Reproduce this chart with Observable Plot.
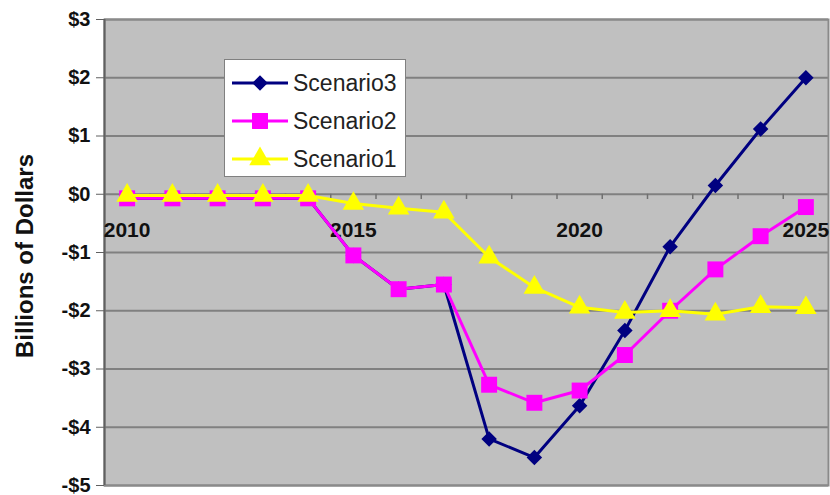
<!DOCTYPE html>
<html>
<head>
<meta charset="utf-8">
<script src="https://cdn.jsdelivr.net/npm/d3@7"></script>
<script src="https://cdn.jsdelivr.net/npm/@observablehq/plot@0.6"></script>
<style>
  html, body { margin: 0; padding: 0; background: #fff; }
  #wrap { position: relative; width: 830px; height: 495px; font-family: "Liberation Sans", Arial, sans-serif; }
  #ytitle { position: absolute; left: 25px; top: 256px; transform: translate(-50%, -50%) rotate(-90deg); font-weight: bold; font-size: 24px; white-space: nowrap; color: #111; }
  #legend { position: absolute; left: 224px; top: 59px; width: 182px; height: 118px; background: #fff; border: 1px solid #808080; box-sizing: border-box; }
  .row { position: absolute; left: 6px; height: 30px; display: flex; align-items: center; }
  .row span { font-size: 23px; color: #222; margin-left: 4px; }
</style>
</head>
<body>
<div id="wrap"></div>
<script>
const years = [2010, 2011, 2012, 2013, 2014, 2015, 2016, 2017, 2018, 2019, 2020, 2021, 2022, 2023, 2024, 2025];
const scenario3 = [-0.07, -0.07, -0.07, -0.07, -0.07, -1.05, -1.63, -1.55, -4.2, -4.52, -3.63, -2.34, -0.9, 0.15, 1.12, 2.0];
const scenario2 = [-0.07, -0.07, -0.07, -0.07, -0.07, -1.05, -1.63, -1.55, -3.27, -3.58, -3.37, -2.76, -2.0, -1.29, -0.72, -0.22];
const scenario1 = [-0.02, -0.02, -0.02, -0.02, -0.02, -0.16, -0.24, -0.31, -1.08, -1.6, -1.94, -2.03, -2.0, -2.06, -1.93, -1.95];
const seriesNames = ["Scenario3", "Scenario2", "Scenario1"];
const seriesColors = ["#000080", "#ff00ff", "#ffff00"];
const seriesSymbols = ["diamond2", "square", "triangle"];
const seriesR = [7, 9, 8];
const yTicks = [-5, -4, -3, -2, -1, 0, 1, 2, 3];
const xLabelYears = [2010, 2015, 2020, 2025];
const catBoundaries = [2010.5, 2011.5, 2012.5, 2013.5, 2014.5, 2015.5, 2016.5, 2017.5, 2018.5, 2019.5, 2020.5, 2021.5, 2022.5, 2023.5, 2024.5];

const allSeries = [scenario3, scenario2, scenario1];
const data = [];
allSeries.forEach((vals, i) => vals.forEach((v, j) => data.push({year: years[j], value: v, series: seriesNames[i], idx: i})));

const fmt = d => d < 0 ? `-$${-d}` : `$${d}`;

const marks = [
  Plot.frame({fill: "#c0c0c0", stroke: null}),
  Plot.ruleY(yTicks, {stroke: "#808080", strokeWidth: 2}),
  Plot.ruleX(catBoundaries, {x: d => d, y1: 0, y2: -0.09, stroke: "#707070", strokeWidth: 1.5}),
  Plot.frame({stroke: "#8a8a8a", strokeWidth: 2}),
  Plot.ruleX([2009.5], {stroke: "#606060", strokeWidth: 2}),
  Plot.axisY({ticks: yTicks, tickFormat: fmt, label: null, tickSize: 8, tickPadding: 6, fontSize: 20, fontWeight: "bold", stroke: "#606060", fill: "#111"}),
  Plot.text(xLabelYears, {x: d => d, y: 0, dy: 36, text: d => String(d), fontSize: 21, fontWeight: "bold", fill: "#111"})
];
seriesNames.forEach((name, i) => {
  const sub = data.filter(d => d.idx === i);
  marks.push(Plot.line(sub, {x: "year", y: "value", stroke: seriesColors[i], strokeWidth: 3}));
  marks.push(Plot.dot(sub, {x: "year", y: "value", symbol: () => seriesSymbols[i], r: seriesR[i], fill: seriesColors[i], stroke: null}));
});

const chart = Plot.plot({
  width: 830,
  height: 495,
  marginLeft: 104,
  marginRight: 2,
  marginTop: 19,
  marginBottom: 10,
  style: {fontFamily: "'Liberation Sans', Arial, sans-serif", background: "transparent"},
  x: {domain: [2009.5, 2025.5], axis: null},
  y: {domain: [-5, 3], axis: null},
  symbol: {type: "identity"},
  marks
});

const wrap = document.getElementById("wrap");
wrap.appendChild(chart);

const title = document.createElement("div");
title.id = "ytitle";
title.textContent = "Billions of Dollars";
wrap.appendChild(title);

const legend = document.createElement("div");
legend.id = "legend";
const tops = [8, 46, 84];
seriesNames.forEach((name, i) => {
  const row = document.createElement("div");
  row.className = "row";
  row.style.top = tops[i] + "px";
  const sw = d3.create("svg").attr("width", 58).attr("height", 30);
  sw.append("line").attr("x1", 1).attr("x2", 57).attr("y1", 15).attr("y2", 15).attr("stroke", seriesColors[i]).attr("stroke-width", 3);
  const symMap = {diamond2: d3.symbolDiamond2, square: d3.symbolSquare, triangle: d3.symbolTriangle};
  sw.append("path").attr("transform", "translate(29,15)")
    .attr("d", d3.symbol(symMap[seriesSymbols[i]], Math.PI * seriesR[i] * seriesR[i])())
    .attr("fill", seriesColors[i]);
  row.appendChild(sw.node());
  const t = document.createElement("span");
  t.textContent = name;
  row.appendChild(t);
  legend.appendChild(row);
});
wrap.appendChild(legend);
</script>
</body>
</html>
